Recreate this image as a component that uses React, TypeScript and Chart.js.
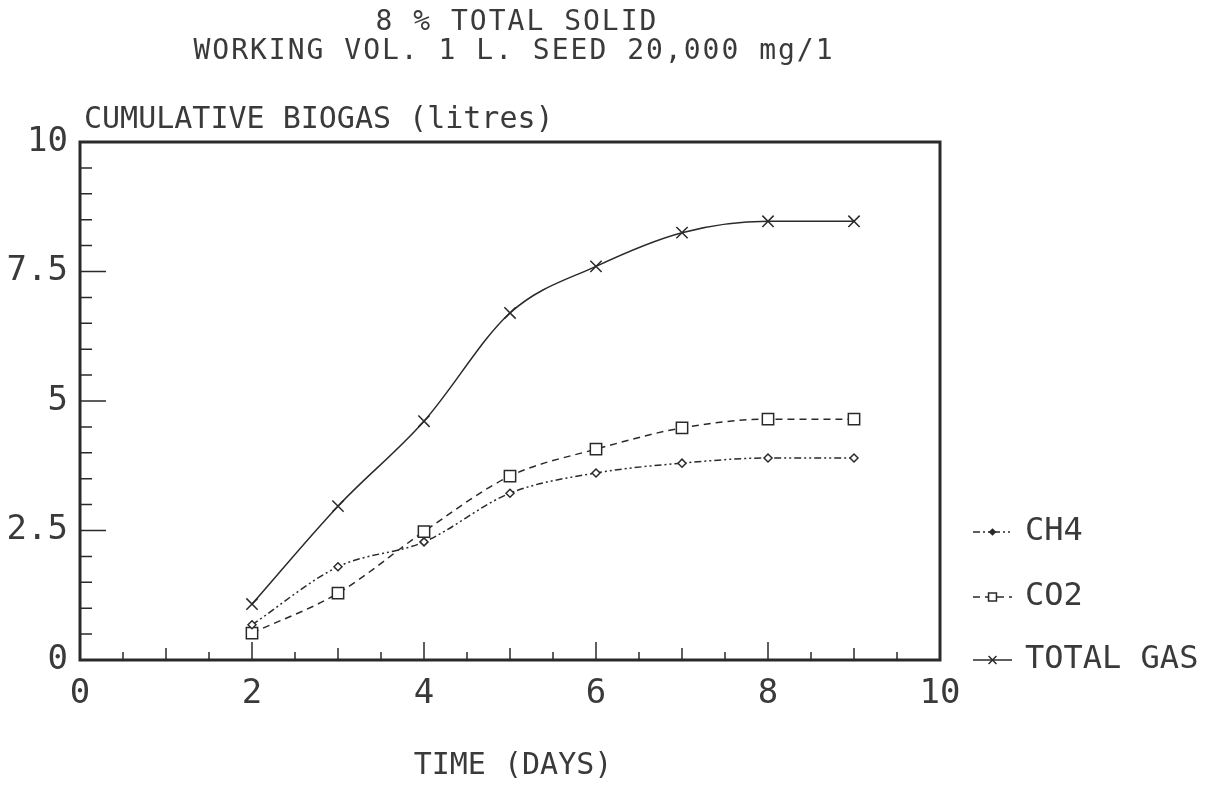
import React, { useEffect, useRef } from "react";
import { Chart, registerables } from "chart.js";

Chart.register(...registerables);

const days = [2, 3, 4, 5, 6, 7, 8, 9];
const ch4 = [0.68, 1.8, 2.28, 3.22, 3.61, 3.8, 3.9, 3.9];
const co2 = [0.52, 1.29, 2.48, 3.55, 4.07, 4.48, 4.65, 4.65];
const totalGas = [1.08, 2.97, 4.61, 6.7, 7.6, 8.25, 8.47, 8.47];
const seriesNames = ["CH4", "CO2", "TOTAL GAS"];
const titleLines = ["8 % TOTAL SOLID", "WORKING VOL. 1 L. SEED 20,000 mg/1"];
const yAxisTitle = "CUMULATIVE BIOGAS (litres)";
const xAxisTitle = "TIME (DAYS)";
const xTickValues = [0, 2, 4, 6, 8, 10];
const yTickValues = [0, 2.5, 5, 7.5, 10];

const INK = "#2a2a2a";
const TEXT = "#3a3a3a";
const FONT = "'DejaVu Sans Mono', 'Liberation Mono', monospace";

function drawMarker(ctx: CanvasRenderingContext2D, style: string, x: number, y: number, r: number, fill: string) {
  ctx.save();
  ctx.setLineDash([]);
  ctx.lineWidth = 1.5;
  ctx.strokeStyle = INK;
  ctx.fillStyle = fill;
  ctx.beginPath();
  if (style === "crossRot") {
    ctx.moveTo(x - r * 0.7, y - r * 0.7);
    ctx.lineTo(x + r * 0.7, y + r * 0.7);
    ctx.moveTo(x + r * 0.7, y - r * 0.7);
    ctx.lineTo(x - r * 0.7, y + r * 0.7);
    ctx.stroke();
  } else if (style === "rect") {
    const s = r * Math.SQRT1_2;
    ctx.rect(x - s, y - s, 2 * s, 2 * s);
    ctx.fill();
    ctx.stroke();
  } else {
    ctx.moveTo(x, y - r);
    ctx.lineTo(x + r, y);
    ctx.lineTo(x, y + r);
    ctx.lineTo(x - r, y);
    ctx.closePath();
    ctx.fill();
    ctx.stroke();
  }
  ctx.restore();
}

const decorPlugin = {
  id: "decor",
  afterDraw(chart: any) {
    const ctx: CanvasRenderingContext2D = chart.ctx;
    const area = chart.chartArea;
    const xs = chart.scales.x;
    const ys = chart.scales.y;
    ctx.save();
    // frame
    ctx.strokeStyle = INK;
    ctx.lineWidth = 3;
    ctx.setLineDash([]);
    ctx.strokeRect(area.left, area.top, area.right - area.left, area.bottom - area.top);
    // inward ticks
    ctx.lineWidth = 1.5;
    ctx.beginPath();
    for (let v = 0.5; v < 10; v += 0.5) {
      const py = ys.getPixelForValue(v);
      const len = Math.abs(v % 2.5) < 1e-6 ? 26 : 12;
      ctx.moveTo(area.left, py);
      ctx.lineTo(area.left + len, py);
      const px = xs.getPixelForValue(v);
      const lx = Math.abs(v % 2) < 1e-6 ? 18 : Math.abs(v % 1) < 1e-6 ? 12 : 8;
      ctx.moveTo(px, area.bottom);
      ctx.lineTo(px, area.bottom - lx);
    }
    ctx.stroke();

    // titles
    ctx.fillStyle = TEXT;
    ctx.textBaseline = "middle";
    ctx.textAlign = "center";
    ctx.font = `28px ${FONT}`;
    (ctx as any).letterSpacing = "2px";
    ctx.fillText(titleLines[0], 509, 15);
    ctx.fillText(titleLines[1], 506, 44);
    (ctx as any).letterSpacing = "0px";
    ctx.font = `30px ${FONT}`;
    ctx.textAlign = "left";
    ctx.fillText(yAxisTitle, area.left + 4, area.top - 22);
    ctx.textAlign = "center";
    ctx.fillText(xAxisTitle, (area.left + area.right) / 2 + 3, area.bottom + 106);

    // legend
    const rowsY = [area.bottom - 128, area.bottom - 63, area.bottom];
    [0, 1, 2].forEach((i, k) => {
      const ds = chart.data.datasets[i];
      const y = rowsY[k];
      const x0 = area.right + 33;
      const x1 = area.right + 72;
      ctx.save();
      ctx.strokeStyle = INK;
      ctx.lineWidth = 1.5;
      ctx.setLineDash(ds.borderDash || []);
      ctx.beginPath();
      ctx.moveTo(x0, y);
      ctx.lineTo(x1, y);
      ctx.stroke();
      ctx.restore();
      drawMarker(ctx, ds.pointStyle, (x0 + x1) / 2, y, ds.pointRadius * 0.7, i === 0 ? INK : ds.pointBackgroundColor);
      ctx.fillStyle = TEXT;
      ctx.textAlign = "left";
      ctx.textBaseline = "middle";
      ctx.font = `32px ${FONT}`;
      ctx.fillText(seriesNames[i], x1 + 13, y);
    });
    ctx.restore();
  },
};

export default function App() {
  const canvasRef = useRef<HTMLCanvasElement | null>(null);

  useEffect(() => {
    if (!canvasRef.current) return;
    const toPts = (vals: number[]) => days.map((d, i) => ({ x: d, y: vals[i] }));
    const chart = new Chart(canvasRef.current, {
      type: "line",
      data: {
        datasets: [
          {
            label: seriesNames[0],
            data: toPts(ch4),
            borderColor: INK,
            borderWidth: 1.5,
            borderDash: [7, 3, 2, 3, 2, 3],
            pointStyle: "rectRot",
            pointRadius: 4,
            pointBackgroundColor: "#ffffff",
            pointBorderColor: INK,
            pointBorderWidth: 1.5,
            cubicInterpolationMode: "monotone",
            fill: false,
          },
          {
            label: seriesNames[1],
            data: toPts(co2),
            borderColor: INK,
            borderWidth: 1.5,
            borderDash: [7, 5],
            pointStyle: "rect",
            pointRadius: 8,
            pointBackgroundColor: "#ffffff",
            pointBorderColor: INK,
            pointBorderWidth: 1.5,
            cubicInterpolationMode: "monotone",
            fill: false,
          },
          {
            label: seriesNames[2],
            data: toPts(totalGas),
            borderColor: INK,
            borderWidth: 1.5,
            pointStyle: "crossRot",
            pointRadius: 8,
            pointBackgroundColor: "#ffffff",
            pointBorderColor: INK,
            pointBorderWidth: 1.5,
            cubicInterpolationMode: "monotone",
            fill: false,
          },
        ],
      },
      options: {
        animation: false,
        responsive: false,
        maintainAspectRatio: false,
        layout: { padding: { top: 134, right: 269, left: 0, bottom: 0 } },
        plugins: {
          legend: { display: false },
          title: { display: false },
          tooltip: { enabled: false },
        },
        scales: {
          x: {
            type: "linear",
            min: 0,
            max: 10,
            afterFit: (s: any) => {
              s.height = 137;
            },
            afterBuildTicks: (s: any) => {
              s.ticks = xTickValues.map((v) => ({ value: v }));
            },
            grid: { display: false, drawTicks: false },
            border: { display: false },
            ticks: {
              color: TEXT,
              padding: 14,
              font: { family: FONT, size: 34 },
              maxRotation: 0,
              callback: (v: any) => String(v),
            },
          },
          y: {
            type: "linear",
            min: 0,
            max: 10,
            afterFit: (s: any) => {
              s.width = 72;
            },
            afterBuildTicks: (s: any) => {
              s.ticks = yTickValues.map((v) => ({ value: v }));
            },
            grid: { display: false, drawTicks: false },
            border: { display: false },
            ticks: {
              color: TEXT,
              padding: 12,
              font: { family: FONT, size: 34 },
              callback: (v: any) => String(v),
            },
          },
        },
      },
      plugins: [decorPlugin],
    });
    return () => chart.destroy();
  }, []);

  return (
    <div style={{ width: 1201, height: 789, background: "#ffffff" }}>
      <canvas ref={canvasRef} width={1201} height={789} style={{ display: "block" }} />
    </div>
  );
}
